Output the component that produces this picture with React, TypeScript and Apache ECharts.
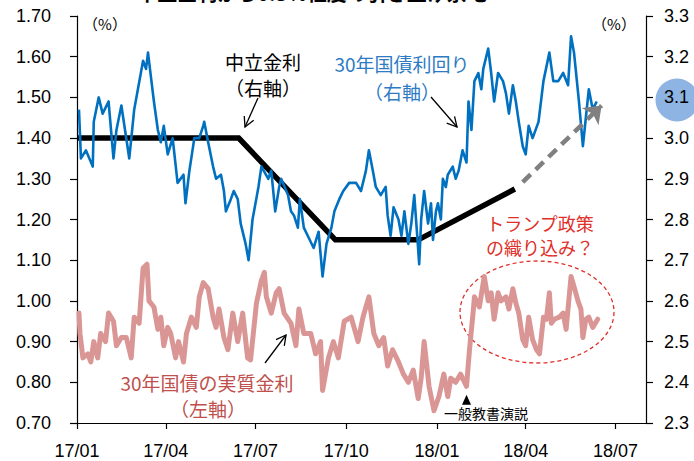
import React, { useEffect, useRef } from 'react';
import * as echarts from 'echarts';

// 30年国債利回り (右軸, %)
const yield30: [string, number][] = [
  ['2017-01-03', 3.07], ['2017-01-05', 2.95], ['2017-01-10', 2.97], ['2017-01-17', 2.93], ['2017-01-18', 3.04],
  ['2017-01-23', 3.10], ['2017-01-27', 3.06], ['2017-02-02', 3.09], ['2017-02-07', 2.95], ['2017-02-10', 3.02],
  ['2017-02-15', 3.08], ['2017-02-23', 2.95], ['2017-02-28', 3.07], ['2017-03-09', 3.19], ['2017-03-12', 3.17],
  ['2017-03-14', 3.21], ['2017-03-17', 3.15], ['2017-03-20', 3.09], ['2017-03-24', 3.02], ['2017-03-27', 2.99],
  ['2017-03-30', 3.03], ['2017-04-03', 2.96], ['2017-04-08', 3.00], ['2017-04-13', 2.89], ['2017-04-19', 2.91],
  ['2017-04-21', 2.84], ['2017-04-25', 2.92], ['2017-04-30', 3.00], ['2017-05-05', 3.00], ['2017-05-09', 3.03],
  ['2017-05-10', 3.04], ['2017-05-14', 2.99], ['2017-05-19', 2.93], ['2017-05-22', 2.90], ['2017-05-27', 2.91],
  ['2017-05-30', 2.87], ['2017-06-01', 2.82], ['2017-06-06', 2.85], ['2017-06-09', 2.87], ['2017-06-13', 2.85],
  ['2017-06-16', 2.79], ['2017-06-21', 2.74], ['2017-06-24', 2.70], ['2017-06-28', 2.80], ['2017-07-04', 2.88],
  ['2017-07-07', 2.93], ['2017-07-14', 2.90], ['2017-07-17', 2.92], ['2017-07-21', 2.82], ['2017-07-25', 2.88],
  ['2017-07-27', 2.90], ['2017-08-03', 2.86], ['2017-08-06', 2.82], ['2017-08-09', 2.81], ['2017-08-13', 2.78],
  ['2017-08-15', 2.85], ['2017-08-19', 2.78], ['2017-08-23', 2.76], ['2017-08-29', 2.73], ['2017-09-03', 2.77],
  ['2017-09-07', 2.66], ['2017-09-11', 2.74], ['2017-09-16', 2.78], ['2017-09-19', 2.82], ['2017-09-24', 2.85],
  ['2017-09-28', 2.87], ['2017-10-04', 2.89], ['2017-10-11', 2.89], ['2017-10-16', 2.87], ['2017-10-21', 2.92],
  ['2017-10-24', 2.97], ['2017-10-28', 2.92], ['2017-10-31', 2.88], ['2017-11-05', 2.86], ['2017-11-10', 2.88],
  ['2017-11-12', 2.81], ['2017-11-15', 2.76], ['2017-11-18', 2.83], ['2017-11-23', 2.80], ['2017-11-26', 2.76],
  ['2017-11-29', 2.82], ['2017-12-03', 2.74], ['2017-12-06', 2.79], ['2017-12-09', 2.86], ['2017-12-12', 2.76],
  ['2017-12-14', 2.69], ['2017-12-16', 2.80], ['2017-12-19', 2.87], ['2017-12-23', 2.79], ['2017-12-26', 2.84],
  ['2017-12-28', 2.75], ['2017-12-31', 2.82], ['2018-01-02', 2.84], ['2018-01-05', 2.80], ['2018-01-07', 2.90],
  ['2018-01-10', 2.88], ['2018-01-12', 2.91], ['2018-01-17', 2.93], ['2018-01-20', 2.90], ['2018-01-23', 2.92],
  ['2018-01-27', 2.97], ['2018-01-31', 2.94], ['2018-02-02', 3.09], ['2018-02-05', 3.02], ['2018-02-08', 3.14],
  ['2018-02-12', 3.16], ['2018-02-15', 3.12], ['2018-02-17', 3.17], ['2018-02-22', 3.22], ['2018-02-25', 3.16],
  ['2018-02-28', 3.09], ['2018-03-04', 3.16], ['2018-03-09', 3.14], ['2018-03-12', 3.11], ['2018-03-15', 3.06],
  ['2018-03-19', 3.13], ['2018-03-22', 3.09], ['2018-03-25', 3.04], ['2018-03-29', 2.98], ['2018-04-01', 2.96],
  ['2018-04-04', 3.03], ['2018-04-08', 3.00], ['2018-04-14', 3.04], ['2018-04-19', 3.14], ['2018-04-25', 3.21],
  ['2018-04-29', 3.14], ['2018-05-04', 3.14], ['2018-05-09', 3.16], ['2018-05-14', 3.13], ['2018-05-17', 3.25],
  ['2018-05-20', 3.21], ['2018-05-25', 3.09], ['2018-05-29', 2.98], ['2018-06-01', 3.05], ['2018-06-04', 3.12],
  ['2018-06-08', 3.07], ['2018-06-12', 3.09],
];

// 30年国債の実質金利 (左軸, %)
const realRate: [string, number][] = [
  ['2017-01-03', 0.97], ['2017-01-04', 0.92], ['2017-01-07', 0.86], ['2017-01-12', 0.87], ['2017-01-15', 0.85],
  ['2017-01-18', 0.90], ['2017-01-22', 0.86], ['2017-01-25', 0.92], ['2017-01-30', 0.90], ['2017-02-02', 0.97],
  ['2017-02-07', 0.95], ['2017-02-10', 0.89], ['2017-02-15', 0.91], ['2017-02-20', 0.91], ['2017-02-25', 0.86],
  ['2017-02-28', 0.96], ['2017-03-05', 0.945], ['2017-03-09', 1.08], ['2017-03-13', 1.09], ['2017-03-15', 1.00],
  ['2017-03-20', 0.985], ['2017-03-24', 0.93], ['2017-03-27', 0.96], ['2017-03-30', 0.89], ['2017-04-03', 0.935],
  ['2017-04-06', 0.92], ['2017-04-11', 0.86], ['2017-04-14', 0.90], ['2017-04-19', 0.85], ['2017-04-22', 0.92],
  ['2017-04-27', 0.96], ['2017-05-02', 0.935], ['2017-05-05', 1.01], ['2017-05-09', 1.045], ['2017-05-14', 1.03],
  ['2017-05-19', 0.96], ['2017-05-22', 0.935], ['2017-05-25', 0.98], ['2017-05-30', 0.91], ['2017-06-03', 0.88],
  ['2017-06-08', 0.97], ['2017-06-13', 0.90], ['2017-06-18', 0.97], ['2017-06-23', 0.86], ['2017-06-26', 0.855],
  ['2017-07-02', 0.995], ['2017-07-07', 1.05], ['2017-07-10', 1.07], ['2017-07-12', 1.01], ['2017-07-17', 0.97],
  ['2017-07-22', 1.02], ['2017-07-25', 1.03], ['2017-07-30', 0.97], ['2017-08-06', 0.945], ['2017-08-11', 0.89],
  ['2017-08-14', 0.98], ['2017-08-19', 0.92], ['2017-08-26', 0.92], ['2017-08-31', 0.87], ['2017-09-05', 0.90],
  ['2017-09-07', 0.78], ['2017-09-13', 0.86], ['2017-09-18', 0.90], ['2017-09-23', 0.86], ['2017-09-29', 0.95],
  ['2017-10-06', 0.96], ['2017-10-13', 0.90], ['2017-10-18', 0.96], ['2017-10-24', 1.01], ['2017-10-29', 0.92],
  ['2017-11-03', 0.89], ['2017-11-08', 0.91], ['2017-11-12', 0.84], ['2017-11-17', 0.88], ['2017-11-23', 0.85],
  ['2017-11-28', 0.82], ['2017-12-03', 0.80], ['2017-12-08', 0.83], ['2017-12-13', 0.76], ['2017-12-16', 0.81],
  ['2017-12-19', 0.90], ['2017-12-24', 0.79], ['2017-12-29', 0.73], ['2018-01-03', 0.765], ['2018-01-08', 0.82],
  ['2018-01-12', 0.765], ['2018-01-15', 0.81], ['2018-01-20', 0.80], ['2018-01-25', 0.82], ['2018-01-31', 0.79],
  ['2018-02-03', 0.88], ['2018-02-07', 0.98], ['2018-02-08', 1.01], ['2018-02-13', 0.985], ['2018-02-18', 1.06],
  ['2018-02-22', 1.00], ['2018-02-25', 1.02], ['2018-02-28', 0.955], ['2018-03-04', 1.02], ['2018-03-07', 1.00],
  ['2018-03-12', 1.01], ['2018-03-15', 0.98], ['2018-03-19', 1.03], ['2018-03-22', 0.995], ['2018-03-25', 0.97],
  ['2018-03-29', 0.905], ['2018-04-01', 0.89], ['2018-04-04', 0.96], ['2018-04-08', 0.905], ['2018-04-12', 0.88],
  ['2018-04-15', 0.87], ['2018-04-19', 0.96], ['2018-04-22', 0.955], ['2018-04-25', 1.02], ['2018-04-27', 0.945],
  ['2018-04-30', 0.955], ['2018-05-05', 0.96], ['2018-05-09', 0.97], ['2018-05-12', 0.93], ['2018-05-17', 1.06],
  ['2018-05-20', 1.035], ['2018-05-24', 1.00], ['2018-05-27', 0.98], ['2018-05-29', 0.91], ['2018-06-01', 0.955],
  ['2018-06-04', 0.96], ['2018-06-08', 0.935], ['2018-06-13', 0.955],
];

// 中立金利 (右軸, %)
const neutralRate: [string, number][] = [
  ['2017-01-01', 3.0], ['2017-06-14', 3.0], ['2017-09-20', 2.75], ['2017-12-13', 2.75], ['2018-03-21', 2.875],
];

// 予想の延長 (点線矢印)
const projection: [string, number][] = [['2018-03-29', 2.892], ['2018-06-17', 3.08]];

// 一般教書演説
const speechPoint: [string, number] = ['2018-01-31', 0.757];

const xMin = '2017-01-01';
const xMax = '2018-08-01';
const leftAxis = { min: 0.7, max: 1.7, interval: 0.1 };
const rightAxis = { min: 2.3, max: 3.3, interval: 0.1 };

const NUM_FONT = '"Liberation Sans", Arial, sans-serif';
const JP_FONT = '"Noto Sans CJK JP", sans-serif';

function arrowHead(x0: number, y0: number, x1: number, y1: number, len = 11, ang = 28) {
  const dx = x0 - x1, dy = y0 - y1;
  const l = Math.hypot(dx, dy);
  const ux = dx / l, uy = dy / l;
  const a = (ang * Math.PI) / 180;
  const c = Math.cos(a), s = Math.sin(a);
  return [
    [x1 + len * (ux * c - uy * s), y1 + len * (ux * s + uy * c)],
    [x1, y1],
    [x1 + len * (ux * c + uy * s), y1 + len * (-ux * s + uy * c)],
  ];
}

function arrow(x0: number, y0: number, x1: number, y1: number) {
  return [
    { type: 'line', shape: { x1: x0, y1: y0, x2: x1, y2: y1 }, style: { stroke: '#000', lineWidth: 1.3 } },
    { type: 'polyline', shape: { points: arrowHead(x0, y0, x1, y1) }, style: { stroke: '#000', lineWidth: 1.3, fill: null } },
  ];
}

function txt(text: string, x: number, y: number, color: string, size: number, extra: any = {}) {
  return {
    type: 'text',
    x,
    y,
    style: { text, fill: color, font: `${size}px ${JP_FONT}`, align: 'center', verticalAlign: 'middle', ...extra },
  };
}

export default function App() {
  const ref = useRef<HTMLDivElement>(null);
  useEffect(() => {
    document.body.style.margin = '0';
    if (!ref.current) return;
    const chart = echarts.init(ref.current, undefined, { renderer: 'svg' });
    const t = (s: string) => echarts.time.parse(s).getTime();
    const fmtDate = (v: number) => {
      const d = new Date(v);
      return String(d.getFullYear()).slice(2) + '/' + String(d.getMonth() + 1).padStart(2, '0');
    };
    const option: any = {
      animation: false,
      grid: { left: 77, right: 48, top: 16, bottom: 38, containLabel: false, outerBoundsMode: 'none' },
      xAxis: {
        type: 'time',
        min: t(xMin),
        max: t(xMax),
        minInterval: 95 * 86400000,
        maxInterval: 95 * 86400000,
        axisLine: { show: true, lineStyle: { color: '#000', width: 1.2 } },
        axisTick: { show: true, length: 6, lineStyle: { color: '#000', width: 1.2 } },
        minorTick: { show: false },
        splitLine: { show: false },
        axisLabel: {
          color: '#000', fontSize: 18, fontFamily: NUM_FONT, margin: 19,
          formatter: (v: number) => fmtDate(v),
          hideOverlap: false,
        },
      },
      yAxis: [
        {
          type: 'value', position: 'left', ...leftAxis,
          axisLine: { show: true, lineStyle: { color: '#000', width: 1.2 } },
          axisTick: { show: true, length: 7, lineStyle: { color: '#000', width: 1.2 } },
          splitLine: { show: false },
          axisLabel: { color: '#000', fontSize: 18, fontFamily: NUM_FONT, margin: 26, formatter: (v: number) => v.toFixed(2) },
        },
        {
          type: 'value', position: 'right', ...rightAxis,
          axisLine: { show: true, lineStyle: { color: '#000', width: 1.2 } },
          axisTick: { show: true, length: 7, lineStyle: { color: '#000', width: 1.2 } },
          splitLine: { show: false },
          axisLabel: { color: '#000', fontSize: 18, fontFamily: NUM_FONT, margin: 18, formatter: (v: number) => v.toFixed(1) },
        },
      ],
      series: [
        {
          name: '中立金利', type: 'line', yAxisIndex: 1, data: neutralRate, showSymbol: false, symbol: 'none', silent: true,
          lineStyle: { color: '#000', width: 5.5, join: 'miter' }, z: 2,
          markLine: {
            silent: true, symbol: ['none', 'arrow'], symbolSize: [18, 16],
            lineStyle: { color: '#808080', width: 4.5, type: [11, 7] },
            label: { show: false },
            data: [[{ coord: projection[0] }, { coord: projection[1] }]],
          },
        },
        {
          name: '30年国債の実質金利', type: 'line', yAxisIndex: 0, data: realRate, showSymbol: false, symbol: 'none', silent: true,
          lineStyle: { color: '#DA9694', width: 5, join: 'round', cap: 'round' }, z: 3,
          markPoint: {
            silent: true,
            data: [{ coord: speechPoint, symbol: 'triangle', symbolSize: [9, 10], itemStyle: { color: '#000' }, label: { show: false } }],
          },
        },
        {
          name: '30年国債利回り', type: 'line', yAxisIndex: 1, data: yield30, showSymbol: false, symbol: 'none', silent: true,
          lineStyle: { color: '#0070C0', width: 2.6, join: 'round' }, z: 4,
        },
      ],
      graphic: [
        { type: 'circle', z: -1, shape: { cx: 677, cy: 100, r: 21.5 }, style: { fill: '#8DB4E2' } },
        txt('中立金利から0.3%程度の引き上げ余地', 312, 2, '#000', 20, { verticalAlign: 'bottom', font: `bold 20px ${JP_FONT}` }),
        txt('（%）', 105, 23, '#000', 15),
        txt('（%）', 614, 23, '#000', 15),
        txt('中立金利', 263, 61, '#000', 19),
        txt('（右軸）', 263, 87, '#000', 19),
        ...arrow(258, 98, 245, 127),
        txt('30年国債利回り', 402, 63, '#2E7BC4', 19),
        txt('（右軸）', 402, 91, '#2E7BC4', 19),
        ...arrow(431, 97, 457, 127),
        txt('トランプ政策', 540, 223, '#E0302A', 18),
        txt('の織り込み？', 540, 247, '#E0302A', 18),
        { type: 'ellipse', shape: { cx: 537, cy: 312, rx: 77, ry: 51 }, style: { fill: null, stroke: '#E0302A', lineWidth: 1.3, lineDash: [4, 3] } },
        txt('30年国債の実質金利', 207, 382, '#C0504D', 19),
        txt('（左軸）', 208, 408, '#C0504D', 19),
        ...arrow(265, 363, 286, 335),
        txt('一般教書演説', 486, 413, '#000', 14),
      ],
    };
    chart.setOption(option);
    return () => chart.dispose();
  }, []);
  return <div ref={ref} style={{ width: 694, height: 461 }} />;
}
